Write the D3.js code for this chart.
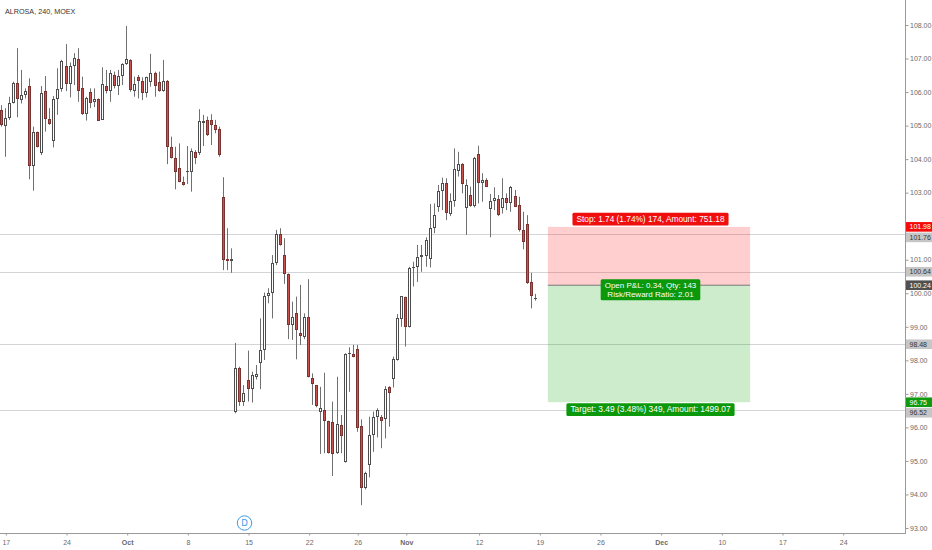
<!DOCTYPE html>
<html><head><meta charset="utf-8">
<script src="https://cdnjs.cloudflare.com/ajax/libs/d3/7.8.5/d3.min.js"></script>
<style>html,body{margin:0;padding:0;background:#fff;}svg{display:block;font-family:"Liberation Sans",Arial,sans-serif;}</style>
</head><body>
<svg id="c" width="932" height="550"></svg>
<script>
// ---- data (4h candles, ALROSA MOEX) ----
const opens = [105.47,104.99,105.22,105.68,106.28,105.76,105.91,106.18,103.80,104.82,104.19,106.03,105.19,104.55,105.79,106.08,106.78,106.23,106.78,106.98,106.11,105.34,106.01,105.71,105.79,105.17,106.19,106.03,106.51,106.18,106.48,106.83,106.96,106.04,106.44,106.34,105.98,106.31,106.58,106.31,106.03,106.33,104.37,104.02,103.73,103.33,103.62,103.62,104.20,104.17,105.07,105.17,105.17,105.02,104.90,102.86,101.01,100.95,96.45,97.78,96.77,97.41,97.14,97.51,97.91,98.31,99.92,100.02,100.89,101.77,101.14,100.57,99.05,99.40,98.82,98.70,99.30,97.48,97.26,96.47,96.52,96.20,96.17,95.23,96.07,94.96,98.19,98.19,98.33,96.04,94.18,94.88,95.77,96.32,96.32,96.24,97.19,97.43,98.01,99.22,99.88,99.00,100.74,100.77,101.09,101.11,101.01,101.94,102.56,103.06,103.28,102.36,102.76,103.65,103.85,102.53,102.92,102.60,104.15,103.28,103.38,102.50,102.75,102.80,102.53,102.85,102.70,102.90,102.63,101.89,102.06,100.34,99.84];
const highs = [105.61,105.52,105.86,106.31,107.31,106.66,106.11,106.41,104.97,104.82,106.18,106.48,105.52,105.88,106.71,106.96,107.43,106.88,107.16,107.31,106.46,105.86,106.11,106.11,105.81,106.74,106.66,106.66,106.61,106.66,106.86,107.97,106.98,106.46,106.51,106.44,106.46,107.14,106.61,106.61,106.96,106.36,104.67,104.37,104.47,103.48,104.39,104.32,104.27,105.49,105.32,105.27,105.34,105.17,104.97,103.46,101.94,101.34,98.52,97.81,97.26,98.29,97.66,97.86,99.25,100.02,100.15,101.14,101.89,101.94,101.64,100.59,99.75,99.90,100.25,99.40,100.42,97.61,97.26,97.21,97.63,96.20,96.77,97.51,96.37,98.21,98.39,98.46,98.46,96.24,94.68,96.32,96.47,96.57,96.37,97.23,97.23,98.11,99.38,99.92,99.90,100.79,100.94,101.44,101.44,101.67,102.66,102.68,103.23,103.45,103.43,102.98,104.32,104.22,103.88,103.40,103.18,104.07,104.40,103.58,103.43,102.96,103.16,102.93,103.43,102.98,103.20,103.08,102.88,102.43,102.33,100.61,99.98];
const lows = [104.97,104.07,105.17,105.66,105.25,105.66,105.81,103.40,103.06,104.35,104.12,104.82,105.02,104.35,105.32,106.01,106.03,105.84,106.21,105.71,105.32,105.15,105.52,105.55,105.14,105.17,105.96,105.71,106.11,105.91,106.21,106.81,106.01,105.86,105.81,105.76,105.84,106.16,105.86,106.01,106.01,103.85,104.02,103.10,103.31,103.21,103.26,103.03,103.85,104.12,104.39,104.69,104.42,104.77,104.07,100.69,100.69,100.61,96.42,96.64,96.64,96.77,96.74,97.43,97.14,98.01,99.70,99.25,100.84,101.42,100.28,98.63,98.61,98.03,98.46,98.63,97.49,96.67,96.60,95.21,95.23,95.22,94.55,95.21,95.23,94.95,97.06,98.09,95.87,93.68,94.15,94.51,95.27,95.70,95.38,95.67,96.02,97.19,97.99,99.00,98.41,98.98,100.20,100.34,100.64,100.79,100.77,101.79,102.43,102.48,102.18,102.30,102.58,103.48,102.98,101.74,102.58,102.56,102.68,102.73,103.18,101.67,102.48,102.30,102.38,102.48,102.43,102.58,101.84,101.31,100.28,99.55,99.78];
const closes = [105.02,105.22,105.66,106.28,105.78,105.91,106.03,103.80,104.82,104.37,105.98,105.19,105.04,105.79,106.08,106.93,106.23,106.78,107.02,106.04,105.34,105.83,105.66,105.78,105.15,106.24,106.03,106.56,106.18,106.48,106.83,106.99,106.06,106.24,106.34,105.98,106.44,106.56,106.18,106.03,106.33,104.37,104.02,103.61,103.33,103.23,103.65,104.24,104.02,105.14,105.15,104.72,105.02,104.87,104.12,100.99,100.95,101.01,97.78,96.77,97.02,97.16,97.56,97.58,98.31,99.92,100.02,100.89,101.77,101.44,100.57,99.05,99.30,98.90,98.72,99.30,97.51,97.29,96.64,96.57,96.20,95.24,95.21,96.10,95.74,98.19,98.21,98.11,95.99,94.18,94.63,95.77,96.32,96.52,96.20,97.14,97.02,98.03,99.25,99.92,98.98,100.74,100.77,101.09,101.14,101.59,101.94,102.33,103.06,103.28,102.38,102.76,103.70,103.85,103.26,103.23,102.60,104.02,103.28,103.38,103.18,102.76,102.83,102.33,102.85,102.70,103.16,102.58,101.89,101.54,100.31,99.92,99.86];

const timeTickLabels = ["17","24","Oct","8","15","22","26","Nov","12","19","26","Dec","10","17","24"];
const timeTickBars   = [1,16,31,46,61,76,88,100,118,133,148,163,178,193,208];
const timeTickBold   = ["Oct","Nov","Dec"];
const priceTicks = [93,94,95,96,97,98,99,100,101,103,104,105,106,107,108];

const levelLines = [101.76, 100.64, 98.48, 96.52];
const axisLabelPrices = [101.98, 101.76, 100.64, 100.24, 98.48, 96.75, 96.52];
const axisLabelKinds  = ["stop","level","level","entry","level","target","level"];

const posEntry = 100.24, posStop = 101.98, posTarget = 96.75;
const posStartBar = 135, posEndBar = 185;
const stopText = "Stop: 1.74 (1.74%) 174, Amount: 751.18";
const midText = ["Open P&L: 0.34, Qty: 143", "Risk/Reward Ratio: 2.01"];
const targetText = "Target: 3.49 (3.48%) 349, Amount: 1499.07";
const title = "ALROSA, 240, MOEX";
const dividendBar = 60;

// ---- layout ----
const W = 932, H = 550, plotR = 905, plotB = 533;
const svg = d3.select("#c");
const x = d3.scaleLinear().domain([-0.445, 223.29]).range([0, plotR]);
const y = d3.scaleLinear().domain([93, 108]).range([528, 25]);

const g = svg.append("g");

// level lines
g.selectAll("line.lvl").data(levelLines).join("line")
  .attr("x1", 0).attr("x2", plotR)
  .attr("y1", d => Math.round(y(d)) + 0.5).attr("y2", d => Math.round(y(d)) + 0.5)
  .attr("stroke", "#d4d4d8").attr("stroke-width", 1);

// candles
const idx = d3.range(opens.length);
const cg = g.append("g");
idx.forEach(i => {
  const o = opens[i], c = closes[i], h = highs[i], l = lows[i];
  const k = Math.round(x(i));
  const up = c >= o;
  cg.append("line")
    .attr("x1", k - 0.5).attr("x2", k - 0.5)
    .attr("y1", y(h)).attr("y2", y(l))
    .attr("stroke", "#707070").attr("stroke-width", 1);
  const top = Math.round(y(Math.max(o, c))), bot = Math.round(y(Math.min(o, c)));
  cg.append("rect")
    .attr("x", k - 1.5).attr("width", 2)
    .attr("y", top + 0.5).attr("height", Math.max(0.01, bot - top - 1 > 0 ? bot - top - 1 : 0.01))
    .attr("fill", up ? "#ffffff" : "#c9524f")
    .attr("stroke", up ? "#4d4d4d" : "#7a3331").attr("stroke-width", 1);
});

// position tool
const px1 = x(posStartBar), px2 = x(posEndBar), pcx = (px1 + px2) / 2;
g.append("rect").attr("x", px1).attr("width", px2 - px1)
  .attr("y", y(posStop)).attr("height", y(posEntry) - y(posStop))
  .attr("fill", "rgba(255,0,0,0.19)");
g.append("rect").attr("x", px1).attr("width", px2 - px1)
  .attr("y", y(posEntry)).attr("height", y(posTarget) - y(posEntry))
  .attr("fill", "rgba(0,160,0,0.2)");
g.append("line").attr("x1", px1).attr("x2", px2)
  .attr("y1", y(posEntry)).attr("y2", y(posEntry))
  .attr("stroke", "#777").attr("stroke-width", 1);

function labelBox(lines, cx, yTop, fill, fs) {
  const grp = g.append("g");
  const lh = fs * 1.1;
  const texts = lines.map((t, j) => grp.append("text")
    .attr("x", cx).attr("y", yTop + 2 + fs * 0.85 + j * lh)
    .attr("text-anchor", "middle").attr("font-size", fs)
    .attr("fill", "#fff").text(t));
  let wmax = 0;
  texts.forEach(t => { wmax = Math.max(wmax, t.node().getComputedTextLength()); });
  const bw = wmax + 8, bh = lines.length * lh + 3.5;
  grp.insert("rect", "text").attr("x", cx - bw / 2).attr("y", yTop)
    .attr("width", bw).attr("height", bh).attr("rx", 1.5).attr("fill", fill);
  return bh;
}
labelBox([stopText], pcx + 1.5, y(posStop) - 14, "#f00f0f", 8.3);
labelBox(midText, pcx + 1.5, y(posEntry) - 6, "#0b980b", 8.0);
labelBox([targetText], pcx + 1.5, y(posTarget) + 1, "#0b980b", 8.4);

// axes
svg.append("line").attr("x1", plotR + 0.5).attr("x2", plotR + 0.5).attr("y1", 0).attr("y2", plotB + 1)
  .attr("stroke", "#9a9a9a");
svg.append("line").attr("x1", 0).attr("x2", plotR + 1).attr("y1", plotB + 0.5).attr("y2", plotB + 0.5)
  .attr("stroke", "#9a9a9a");

// price ticks
const yAxis = d3.axisRight(y).tickValues(priceTicks).tickSize(3).tickFormat(d3.format(".2f"));
const ya = svg.append("g").attr("transform", `translate(${plotR + 0.5},0)`).call(yAxis);
ya.select(".domain").remove();
ya.selectAll(".tick line").attr("stroke", "#9a9a9a");
ya.selectAll(".tick text").attr("font-size", 7).attr("fill", "#6a6a6a").attr("x", 4.5)
  .attr("font-family", "'Liberation Sans',Arial,sans-serif");

// time ticks
const xa = svg.append("g").attr("transform", `translate(0,${plotB + 0.5})`)
  .call(d3.axisBottom(x).tickValues(timeTickBars).tickSize(2)
    .tickFormat((d, j) => timeTickLabels[j]));
xa.select(".domain").remove();
xa.selectAll(".tick line").attr("stroke", "#9a9a9a");
xa.selectAll(".tick text").attr("font-size", 7).attr("fill", "#6a6a6a").attr("dy", "0.95em")
  .attr("font-family", "'Liberation Sans',Arial,sans-serif")
  .attr("font-weight", (d, j) => timeTickBold.includes(timeTickLabels[j]) ? "bold" : "normal");

// price axis labels (with simple collision push-down)
const kindStyle = {
  stop: ["#f50a0a", "#fff"], level: ["#c6c6c6", "#333"],
  entry: ["#505050", "#fff"], target: ["#119911", "#fff"]
};
let lastY = -100;
axisLabelPrices.forEach((p, j) => {
  let yy = y(p);
  if (yy - lastY < 10.5) yy = lastY + 10.5;
  lastY = yy;
  const [bg, fg] = kindStyle[axisLabelKinds[j]];
  svg.append("rect").attr("x", plotR + 1).attr("y", yy - 4.8).attr("width", W - plotR - 1).attr("height", 9.6)
    .attr("fill", bg);
  svg.append("text").attr("x", plotR + 4.5).attr("y", yy).attr("dy", "0.35em")
    .attr("font-size", 7).attr("fill", fg).text(p.toFixed(2));
});

// title
svg.append("text").attr("x", 5).attr("y", 14).attr("font-size", 7.2).attr("fill", "#333").text(title);

// dividend marker
const dx = x(dividendBar);
svg.append("circle").attr("cx", dx).attr("cy", 523).attr("r", 7.2)
  .attr("fill", "#fff").attr("stroke", "#3d9be9").attr("stroke-width", 1);
svg.append("text").attr("x", dx).attr("y", 523.5).attr("dy", "0.35em").attr("text-anchor", "middle")
  .attr("font-family", "'DejaVu Sans',sans-serif")
  .attr("font-size", 8.5).attr("fill", "#3d9be9").text("D");
</script>
</body></html>
